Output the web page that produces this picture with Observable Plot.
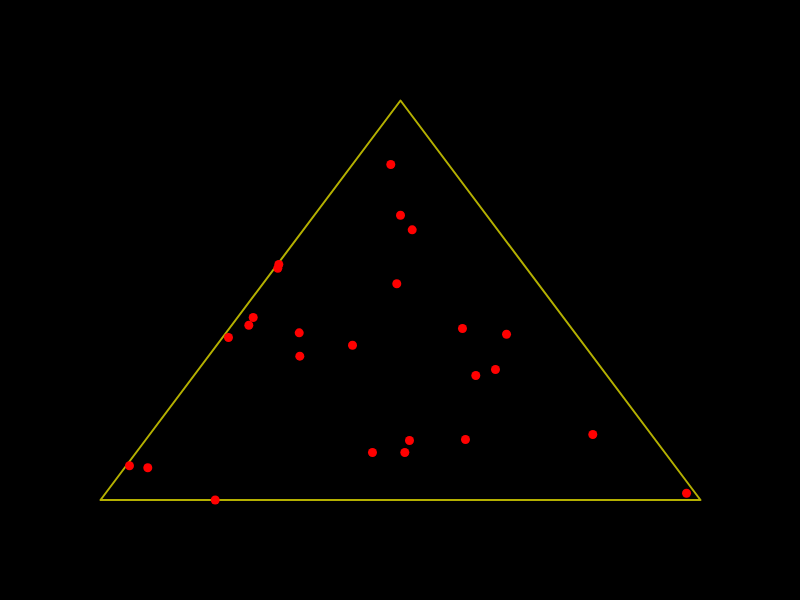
<!DOCTYPE html>
<html>
<head>
<meta charset="utf-8">
<script src="https://cdn.jsdelivr.net/npm/d3@7"></script>
<script src="https://cdn.jsdelivr.net/npm/@observablehq/plot@0.6"></script>
<style>
  html, body { margin: 0; padding: 0; background: #000; }
</style>
</head>
<body>
<div id="chart"></div>
<script>
// Triangle frame vertices (data units)
const frameX = [0, 1, 0.5, 0];
const frameY = [0, 0, 1, 0];

// Point positions (data units: x across base, y height fraction)
const pointX = [0.4838, 0.5, 0.5195, 0.2972, 0.2955, 0.4938, 0.2545, 0.2472, 0.2133, 0.3312,
                0.3322, 0.42, 0.6033, 0.6767, 0.6255, 0.6583, 0.8205, 0.515, 0.6083, 0.4533,
                0.5072, 0.0483, 0.0788, 0.1912, 0.9767];
const pointY = [0.8398, 0.7129, 0.6763, 0.5895, 0.5802, 0.5412, 0.4568, 0.4375, 0.4068, 0.4185,
                0.36, 0.3875, 0.4293, 0.415, 0.3116, 0.3267, 0.164, 0.1489, 0.1514, 0.1189,
                0.1189, 0.0856, 0.0806, 0.0, 0.017];

const frame = frameX.map((x, i) => ({x, y: frameY[i]}));
const points = pointX.map((x, i) => ({x, y: pointY[i]}));

const chart = Plot.plot({
  width: 800,
  height: 600,
  marginLeft: 100,
  marginRight: 100,
  marginTop: 100,
  marginBottom: 100.5,
  style: {background: "#000"},
  x: {domain: [0, 1], axis: null},
  y: {domain: [0, 1], axis: null},
  marks: [
    Plot.line(frame, {x: "x", y: "y", stroke: "#b4b000", strokeWidth: 2, curve: "linear"}),
    Plot.dot(points, {x: "x", y: "y", r: 4.5, fill: "#ff0000", stroke: "none"})
  ]
});
document.getElementById("chart").appendChild(chart);
</script>
</body>
</html>
